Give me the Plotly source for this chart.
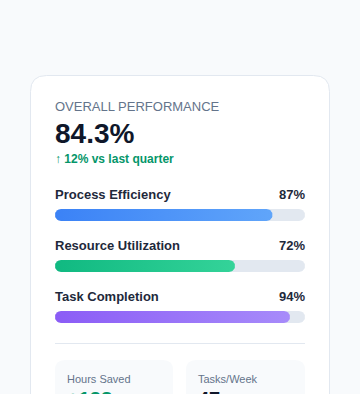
import numpy as np
import plotly.graph_objects as go

# ---------------- data ----------------
metrics = ["Process Efficiency", "Resource Utilization", "Task Completion"]
values = [87, 72, 94]
value_labels = ["87%", "72%", "94%"]
headline_label = "OVERALL PERFORMANCE"
headline_value = "84.3%"
headline_change = "↑ 12% vs last quarter"
stat_labels = ["Hours Saved", "Tasks/Week"]
stat_values = ["+128", "47"]

# ---------------- styles ----------------
W, H = 360, 394
FONT = "Liberation Sans, Arial, sans-serif"
grad = [("#3b82f6", "#60a5fa"), ("#10b981", "#34d399"), ("#8b5cf6", "#a78bfa")]
TRACK = "#e2e8f0"
BAR_X0, BAR_X1 = 55, 305          # pixel extent of bar tracks
BAR_H = 12
ROW0, ROW_STEP = 215, 51          # bar centre of first row and row spacing
PX_PER_UNIT = (BAR_X1 - BAR_X0) / 100.0


def pill(v0, v1, yc, r_px, n=20):
    rx = r_px / PX_PER_UNIT
    ry = r_px
    t = np.linspace(-np.pi / 2, np.pi / 2, n)
    xr = (v1 - rx) + rx * np.cos(t)
    yr = yc + ry * np.sin(t)
    xl = (v0 + rx) - rx * np.cos(t)
    yl = yc - ry * np.sin(t)
    x = np.concatenate([xr, xl, xr[:1]])
    y = np.concatenate([yr, yl, yr[:1]])
    return x, y


def rounded_path(x0, y0, x1, y1, r):
    return (f"M{x0+r},{y0} L{x1-r},{y0} Q{x1},{y0} {x1},{y0+r} "
            f"L{x1},{y1-r} Q{x1},{y1} {x1-r},{y1} L{x0+r},{y1} "
            f"Q{x0},{y1} {x0},{y1-r} L{x0},{y0+r} Q{x0},{y0} {x0+r},{y0} Z")


fig = go.Figure()

for i, (name, v) in enumerate(zip(metrics, values)):
    yc = ROW0 + i * ROW_STEP
    tx, ty = pill(0, 100, yc, BAR_H / 2)
    fig.add_trace(go.Scatter(x=tx, y=ty, xaxis="x2", yaxis="y", mode="lines",
                             fill="toself", fillcolor=TRACK, line=dict(width=0),
                             hoverinfo="skip", showlegend=False))
    bx, by = pill(0, v, yc, BAR_H / 2)
    fig.add_trace(go.Scatter(x=bx, y=by, xaxis="x2", yaxis="y", mode="lines",
                             fill="toself", line=dict(width=0),
                             fillgradient=dict(type="horizontal",
                                               colorscale=[[0, grad[i][0]], [1, grad[i][1]]]),
                             name=name, hovertemplate=f"{name}: %{{x:.0f}}%<extra></extra>",
                             showlegend=False))

shapes = [
    dict(type="path", path=rounded_path(30.5, 75.5, 329.5, 440, 16), xref="x", yref="y",
         fillcolor="#ffffff", line=dict(color="#e2e8f0", width=1), layer="below"),
    dict(type="line", x0=55, x1=305, y0=343.5, y1=343.5, xref="x", yref="y",
         line=dict(color="#e2e8f0", width=1), layer="below"),
    dict(type="path", path=rounded_path(55, 360, 173, 440, 10), xref="x", yref="y",
         fillcolor="#f8fafc", line=dict(width=0), layer="below"),
    dict(type="path", path=rounded_path(186, 360, 305, 440, 10), xref="x", yref="y",
         fillcolor="#f8fafc", line=dict(width=0), layer="below"),
]

ann = []


def txt(x, y, s, size, color, bold=False, anchor="left", xref="x", yshift=0):
    ann.append(dict(x=x, y=y, xref=xref, yref="y", text=f"<b>{s}</b>" if bold else s,
                    showarrow=False, xanchor=anchor, yanchor="middle",
                    xshift=-2 if anchor == "left" else 2, yshift=yshift,
                    font=dict(family=FONT, size=size, color=color)))


txt(55, 106.5, headline_label, 13, "#64748b")
txt(55, 133, headline_value, 28, "#0f172a", bold=True)
txt(55, 159, headline_change, 12, "#059669", bold=True)
for i, (name, lab) in enumerate(zip(metrics, value_labels)):
    ly = 194 + i * ROW_STEP
    txt(55, ly, name, 13, "#1e293b", bold=True)
    txt(100, ly, lab, 13, "#1e293b", bold=True, anchor="right", xref="x2")
txt(67, 378.5, stat_labels[0], 11, "#64748b")
txt(198, 378.5, stat_labels[1], 11, "#64748b")
txt(67, 390, stat_values[0], 20, "#059669", bold=True, yshift=-9)
txt(198, 390, stat_values[1], 20, "#0f172a", bold=True, yshift=-9)

fig.update_layout(
    width=W, height=H, margin=dict(l=0, r=0, t=0, b=0),
    paper_bgcolor="#f8fafc", plot_bgcolor="rgba(0,0,0,0)",
    xaxis=dict(range=[0, W], domain=[0, 1], visible=False, fixedrange=True),
    xaxis2=dict(range=[0, 100], domain=[BAR_X0 / W, BAR_X1 / W], anchor="y",
                visible=False, fixedrange=True),
    yaxis=dict(range=[H, 0], domain=[0, 1], visible=False, fixedrange=True),
    shapes=shapes, annotations=ann, showlegend=False,
)

fig.write_html("out.html", config={"displayModeBar": False},
               post_script="document.body.style.margin='0';document.body.style.background='#f8fafc';document.body.style.overflow='hidden';")
